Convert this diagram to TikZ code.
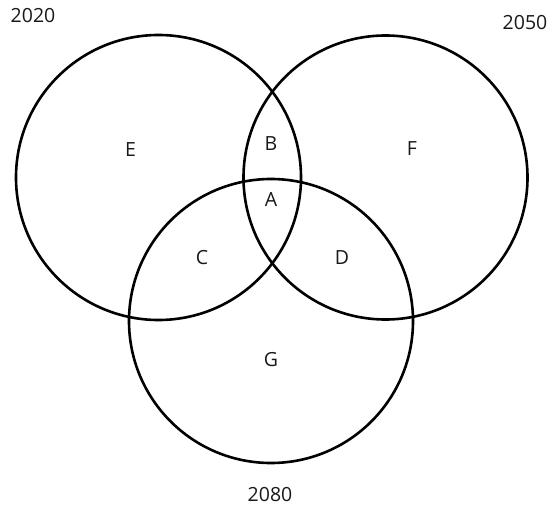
\documentclass[tikz,border=0pt]{standalone}
\usepackage{fontspec}
\setmainfont{Open Sans}
\begin{document}
\begin{tikzpicture}[x=1pt,y=-1pt,
  ring/.style={draw=black,line width=2.6pt},
  lbl/.style={inner sep=0pt,font=\fontsize{19.5}{22}\selectfont,text=black!90}]
\useasboundingbox[fill=white] (0,0) rectangle (551,508);
\coordinate (cl) at (158.5,177.5);
\coordinate (cr) at (385.5,177.5);
\coordinate (cb) at (271,321);
\draw[ring] (cl) circle[radius=142.5];
\draw[ring] (cr) circle[radius=142];
\draw[ring] (cb) circle[radius=142];
\node[lbl] (y1) at (33,16) {2020};
\node[lbl] (y2) at (525,23) {2050};
\node[lbl] (y3) at (270,495) {2080};
\node[lbl] (e) at (130.5,150) {E};
\node[lbl] (b) at (271,143.5) {B};
\node[lbl] (f) at (412,148.5) {F};
\node[lbl] (a) at (271,200) {A};
\node[lbl] (c) at (202,258) {C};
\node[lbl] (d) at (342,258) {D};
\node[lbl] (g) at (271,360) {G};
\end{tikzpicture}
\end{document}
